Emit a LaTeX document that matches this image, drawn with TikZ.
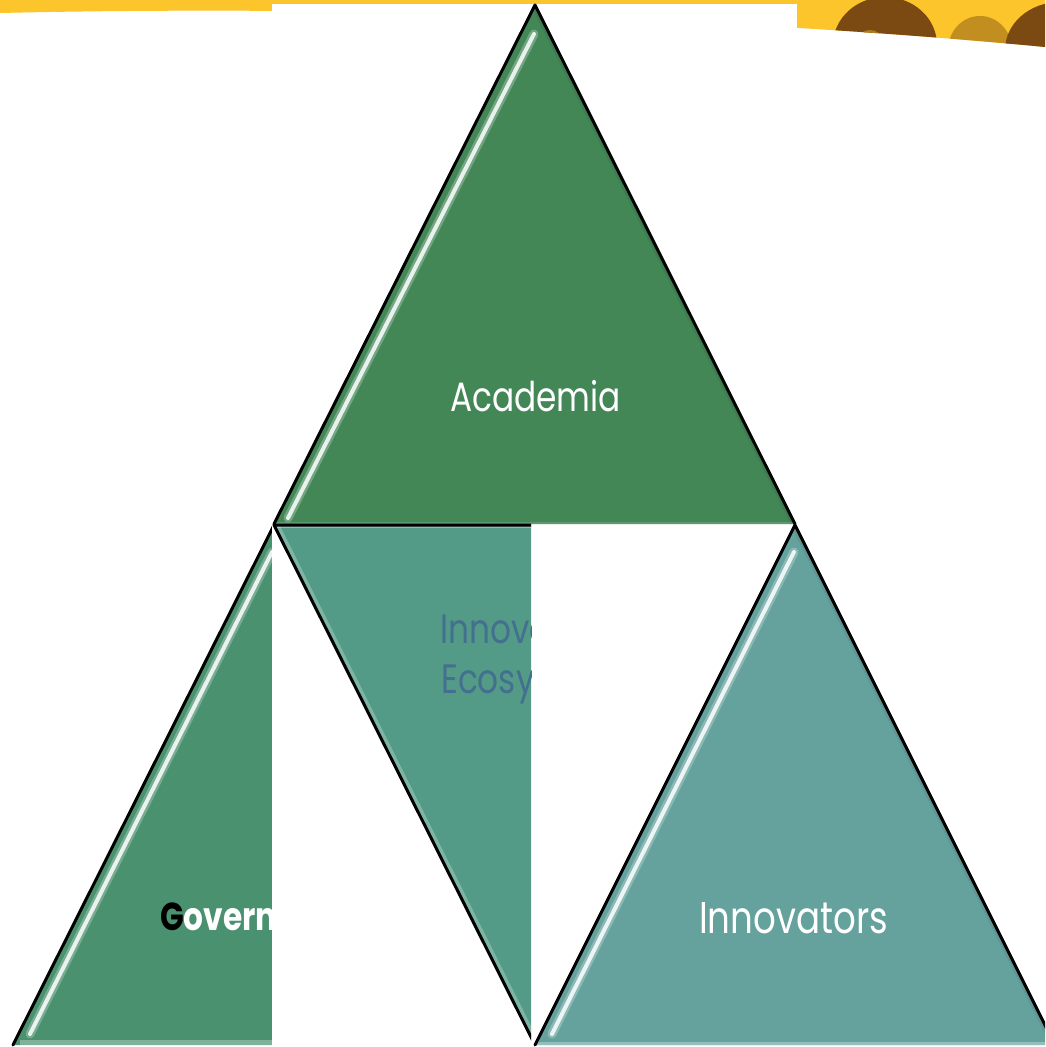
\documentclass[tikz,border=0pt]{standalone}
\usepackage{fontspec}
\setmainfont{Poppins}[FakeStretch=0.8]
\definecolor{acad}{HTML}{438757}
\definecolor{govt}{HTML}{4A916F}
\definecolor{midc}{HTML}{539B86}
\definecolor{innov}{HTML}{65A29E}
\definecolor{banner}{HTML}{FCC52B}
\definecolor{head}{HTML}{7B4A12}
\definecolor{ecotext}{HTML}{44708F}
\tikzset{
  edge/.style={black, line width=3pt, line cap=round, line join=round},
  shine/.style={white, line width=4pt, opacity=0.85, line cap=round},
  glow/.style={white, line width=9pt, opacity=0.25, line cap=round},
  shade/.style={black, line width=8pt, opacity=0.07},
  lbl/.style={anchor=base west, inner sep=0pt, font=\fontsize{41}{50}\selectfont},
}
\begin{document}
\begin{tikzpicture}[x=1pt,y=-1pt]
\useasboundingbox (0,0) rectangle (1045,1047);
\fill[white] (0,0) rectangle (1045,1047);
% yellow banner
\begin{scope}
\clip (0,0) -- (0,13) .. controls (300,6) and (700,14) .. (1045,47) -- (1045,0) -- cycle;
\fill[banner] (0,0) rectangle (1045,60);
\fill[head] (885,45) ellipse (52 and 48);
\fill[head!45!banner] (980,50) ellipse (32 and 34);
\fill[head] (1060,50) ellipse (55 and 48);
\fill[head!60!banner] (870,40) ellipse (12 and 10);
\end{scope}
% Government triangle (clipped)
\begin{scope}
\clip (0,0) rectangle (272,1047);
\coordinate (gA) at (274,525);
\coordinate (gL) at (13,1045);
\coordinate (gR) at (535,1045);
\fill[govt] (gA) -- (gL) -- (gR) -- cycle;
\draw[white, line width=6pt, opacity=0.3] (20,1043) -- (535,1043);
\draw[glow] (272,552) -- (30,1034);
\draw[shine] (272,552) -- (30,1034);
\draw[edge] (gA) -- (gL);
\node[lbl, font=\fontsize{39}{48}\selectfont\bfseries] (govtext) at (160,930) {\textcolor{black}{G}\textcolor{white}{overnment}};
\end{scope}
% white panel
\fill[white] (272,4) rectangle (797,1047);
% Academia triangle
\coordinate (aT) at (535,5);
\coordinate (aL) at (274,524);
\coordinate (aR) at (795,524);
\fill[acad] (aT) -- (aL) -- (aR) -- cycle;
\begin{scope}
\clip (aT) -- (aL) -- (aR) -- cycle;
\draw[shade] (aT) -- (aR);
\draw[white, line width=5pt, opacity=0.15] (aL) -- (aR);
\end{scope}
\draw[glow] (534,34) -- (288,518);
\draw[shine] (534,34) -- (288,518);
\draw[edge] (aL) -- (aT) -- (aR);
\node[lbl, white] (acadtext) at (450,411) {Academia};
% middle inverted triangle (clipped)
\begin{scope}
\clip (0,0) rectangle (531,1047);
\coordinate (mL) at (274,525);
\coordinate (mR) at (795,525);
\coordinate (mB) at (535,1045);
\fill[midc] (mL) -- (mR) -- (mB) -- cycle;
\begin{scope}
\clip (mL) -- (mR) -- (mB) -- cycle;
\draw[white, line width=10pt, opacity=0.25] (mL) -- (mB);
\draw[white, line width=5pt, opacity=0.35] (mL) -- (mR);
\end{scope}
\draw[edge] (mR) -- (mL) -- (mB);
\node[lbl, ecotext] (ecotext1) at (440,643) {Innovation};
\node[lbl, ecotext] (ecotext2) at (441,693) {Ecosystem};
\end{scope}
% Innovators triangle
\begin{scope}
\clip (0,0) rectangle (1045,1047);
\coordinate (iT) at (795,525);
\coordinate (iL) at (535,1045);
\coordinate (iR) at (1055,1045);
\fill[innov] (iT) -- (iL) -- (iR) -- cycle;
\begin{scope}
\clip (iT) -- (iL) -- (iR) -- cycle;
\draw[shade] (iT) -- (iR);
\draw[white, line width=6pt, opacity=0.3] (iL) -- (iR);
\end{scope}
\draw[glow] (794,552) -- (552,1034);
\draw[shine] (794,552) -- (552,1034);
\draw[edge] (iL) -- (iT) -- (iR);
\node[lbl, white, font=\fontsize{44.5}{52}\selectfont] (innovtext) at (699,933) {Innovators};
\end{scope}
\end{tikzpicture}
\end{document}
